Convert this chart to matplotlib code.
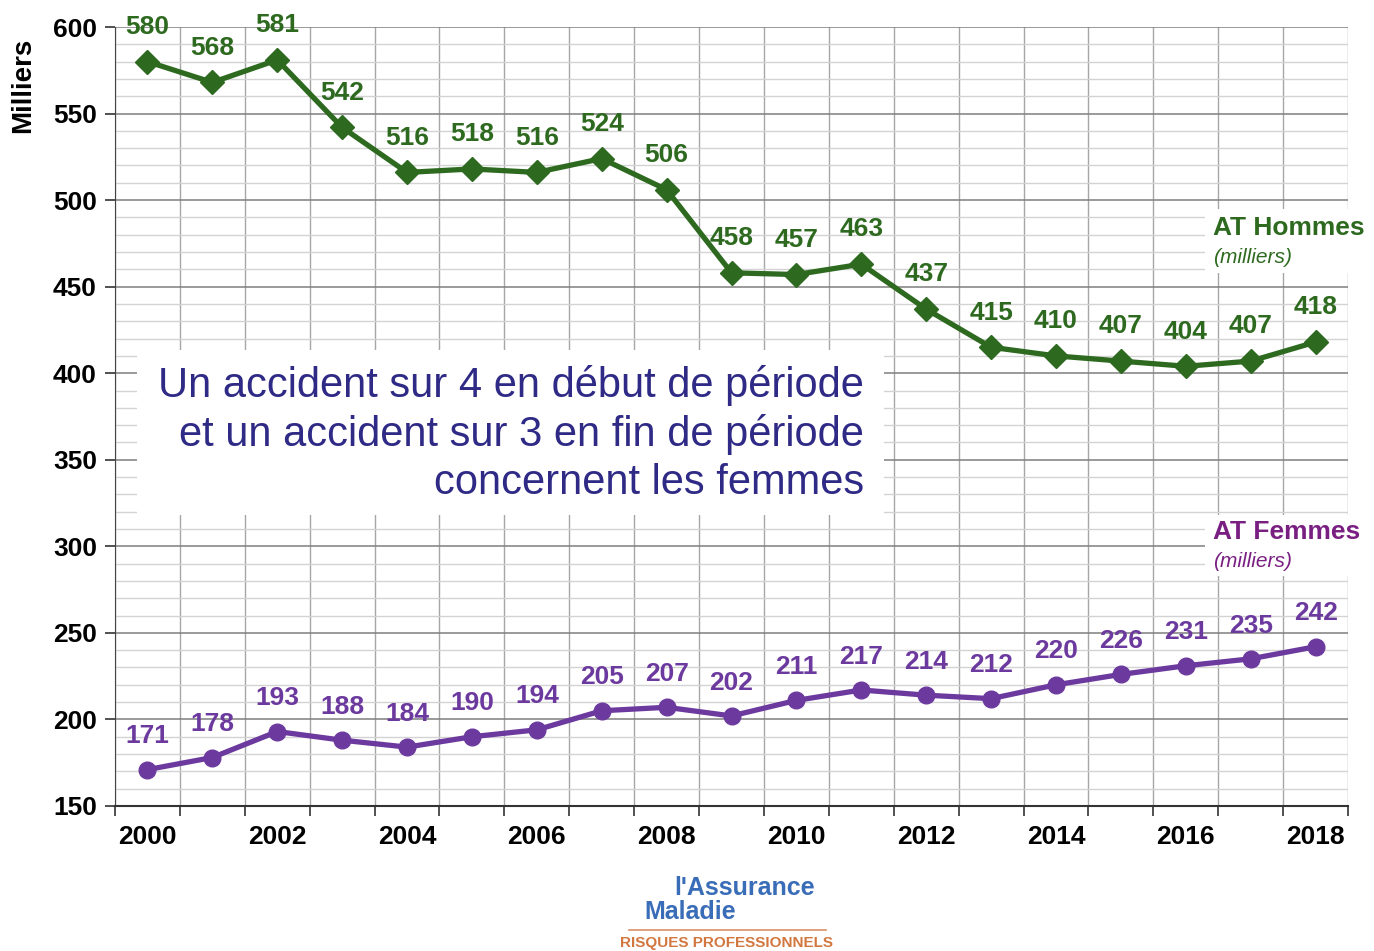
import matplotlib.pyplot as plt
from matplotlib.patches import Rectangle
from matplotlib.ticker import MultipleLocator

annees = list(range(2000, 2019))
hommes = [580, 568, 581, 542, 516, 518, 516, 524, 506, 458, 457, 463, 437, 415, 410, 407, 404, 407, 418]
femmes = [171, 178, 193, 188, 184, 190, 194, 205, 207, 202, 211, 217, 214, 212, 220, 226, 231, 235, 242]
ticks_x = list(range(2000, 2019, 2))

vert = "#2d6a1f"
violet = "#6c3a9e"
magenta = "#7a1f82"
bleu_titre = "#2f2a85"

plt.rcParams["font.family"] = ["Liberation Sans", "DejaVu Sans"]

fig = plt.figure(figsize=(13.74, 9.51), dpi=100)
ax = fig.add_axes([0.0837, 0.1525, 0.8974, 0.8191])
ax.set_axisbelow(True)

ax.set_xlim(1999.5, 2018.5)
ax.set_ylim(150, 600)

# grille
ax.yaxis.set_major_locator(MultipleLocator(50))
ax.yaxis.set_minor_locator(MultipleLocator(10))
ax.set_xticks(ticks_x)
ax.set_xticks([a - 0.5 for a in annees] + [2018.5], minor=True)
ax.grid(which="major", axis="y", color="#7f7f7f", lw=1.1)
ax.grid(which="minor", axis="y", color="#d3d3d3", lw=1.0)
ax.grid(which="minor", axis="x", color="#a6a6a6", lw=1.0)
ax.tick_params(axis="x", which="major", length=0, pad=14, labelsize=19)
ax.tick_params(axis="x", which="minor", length=7, width=1.2, color="#333333", direction="out")
ax.tick_params(axis="y", which="major", length=7, width=1.2, color="#333333", labelsize=19, pad=6)
ax.tick_params(axis="y", which="minor", length=0)
for lab in ax.get_xticklabels() + ax.get_yticklabels():
    lab.set_fontweight("bold")
for s in ["top", "right"]:
    ax.spines[s].set_visible(False)
ax.spines["left"].set_color("#444444")
ax.spines["bottom"].set_color("#333333")
ax.spines["bottom"].set_linewidth(1.5)

ax.set_ylabel("Milliers", fontsize=20, fontweight="bold")
ax.yaxis.set_label_coords(-0.064, 0.925)

ax.plot(annees, hommes, color=vert, lw=3.8, marker="D", markersize=12, zorder=3)
ax.plot(annees, femmes, color=violet, lw=3.8, marker="o", markersize=12, zorder=3)

for a, v in zip(annees, hommes):
    ax.annotate(str(v), (a, v), xytext=(0, 25), textcoords="offset points",
                ha="center", va="center", color=vert, fontsize=19,
                fontweight="bold", zorder=4)
for a, v in zip(annees, femmes):
    ax.annotate(str(v), (a, v), xytext=(0, 24), textcoords="offset points",
                ha="center", va="center", color=violet, fontsize=19,
                fontweight="bold", zorder=4)

# encadré du message
ax.add_patch(Rectangle((1999.84, 318), 11.51, 95.4, fc="white", ec="none", zorder=2))
ax.text(2011.04, 364.9, "Un accident sur 4 en début de période\net un accident sur 3 en fin de période\nconcernent les femmes",
        ha="right", va="center", multialignment="right", fontsize=30, color=bleu_titre,
        linespacing=1.25, zorder=2.5)

# étiquettes des séries
ax.add_patch(Rectangle((2016.3, 458), 3.2, 37, fc="white", ec="none", zorder=2, clip_on=False))
ax.text(2016.42, 484, "AT Hommes", ha="left", va="center", fontsize=19, fontweight="bold",
        color=vert, clip_on=False, zorder=2.5)
ax.text(2016.42, 467, "(milliers)", ha="left", va="center", fontsize=15, style="italic",
        color=vert, clip_on=False, zorder=2.5)
ax.add_patch(Rectangle((2016.3, 283), 3.2, 35, fc="white", ec="none", zorder=2, clip_on=False))
ax.text(2016.42, 308, "AT Femmes", ha="left", va="center", fontsize=19, fontweight="bold",
        color=magenta, clip_on=False, zorder=2.5)
ax.text(2016.42, 291.5, "(milliers)", ha="left", va="center", fontsize=15, style="italic",
        color=magenta, clip_on=False, zorder=2.5)

# logo
fig.text(0.491, 0.066, "l'Assurance", fontsize=18, fontweight="bold", color="#3a6db8",
         ha="left", va="center")
fig.text(0.469, 0.041, "Maladie", fontsize=18, fontweight="bold", color="#3a6db8",
         ha="left", va="center")
fig.add_artist(plt.Line2D([0.458, 0.601], [0.022, 0.022], color="#d9906a", lw=1.2))
fig.text(0.529, 0.008, "RISQUES PROFESSIONNELS", fontsize=11, fontweight="bold",
         color="#d2773f", ha="center", va="center")

fig.savefig("out.png", dpi=100)
